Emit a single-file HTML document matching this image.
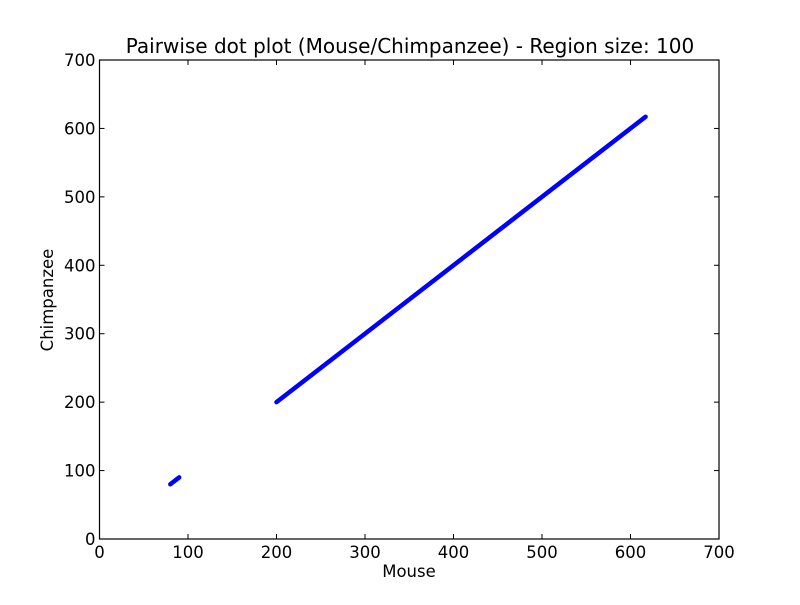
<!DOCTYPE html>
<html><head><meta charset="utf-8"><style>
body{margin:0;background:#fff;}
svg text{font-family:"DejaVu Sans","Liberation Sans",sans-serif;fill:#000;}
</style></head><body>
<svg id="chart" width="800" height="600" xmlns="http://www.w3.org/2000/svg">
<rect width="800" height="600" fill="#fff"/>
<text x="410" y="53" font-size="20" text-anchor="middle">Pairwise dot plot (Mouse/Chimpanzee) - Region size: 100</text>
<g id="marks"></g>
<g id="axes"></g>
<text x="409" y="577" font-size="16.5" text-anchor="middle">Mouse</text>
<text x="0" y="0" font-size="16.5" text-anchor="middle" transform="translate(53,300) rotate(-90)">Chimpanzee</text>
</svg>
<script>
const segStarts = [80, 200];
const segEnds = [90, 617];
const xTicks = [0,100,200,300,400,500,600,700];
const yTicks = [0,100,200,300,400,500,600,700];
const L=99.5,R=719,T=60,B=539,MAX=700;
const sx=v=>L+(R-L)*v/MAX, sy=v=>B-(B-T)*v/MAX;
const NS="http://www.w3.org/2000/svg";
const marks=document.getElementById('marks'), axes=document.getElementById('axes');
function mk(tag,attrs,parent){const e=document.createElementNS(NS,tag);for(const k in attrs)e.setAttribute(k,attrs[k]);parent.appendChild(e);return e;}
segStarts.forEach((s,i)=>{
  const e=segEnds[i];
  const ln=mk('line',{x1:sx(s),y1:sy(s),x2:sx(e),y2:sy(e),stroke:'#0000ff','stroke-width':4.5,'stroke-linecap':'round'},marks);
  
  
});
const fr=mk('rect',{x:L,y:T,width:R-L,height:B-T,fill:'none',stroke:'#000','stroke-width':1.2},axes);


xTicks.forEach(v=>{
  const x=sx(v);
  mk('line',{x1:x,y1:B,x2:x,y2:B-5,stroke:'#000'},axes);
  mk('line',{x1:x,y1:T,x2:x,y2:T+5,stroke:'#000'},axes);
  const t=mk('text',{x:x,y:B+19,'font-size':16.5,'text-anchor':'middle'},axes);
  t.textContent=v;
  
  
});
yTicks.forEach(v=>{
  const y=sy(v);
  mk('line',{x1:L,y1:y,x2:L+5,y2:y,stroke:'#000'},axes);
  mk('line',{x1:R,y1:y,x2:R-5,y2:y,stroke:'#000'},axes);
  const t=mk('text',{x:L-4,y:y+6,'font-size':16.5,'text-anchor':'end'},axes);
  t.textContent=v;
  
  
});
</script>
</body></html>
